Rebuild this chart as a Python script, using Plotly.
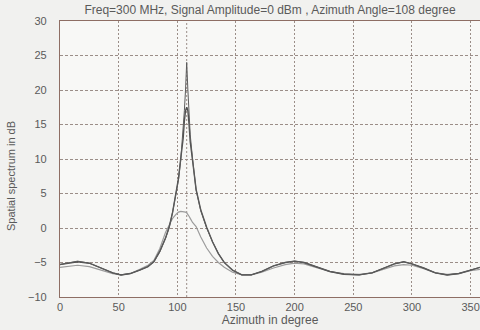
import plotly.graph_objects as go

# ---- data ----
azimuth = [0, 8, 15, 25, 35, 45, 52, 60, 68, 75, 80, 85, 90, 93, 96, 99, 101, 103, 105, 106,
           107, 108, 109, 110, 111, 113, 116, 120, 125, 130, 135, 140, 147, 155, 163, 172,
           182, 192, 200, 208, 218, 230, 242, 255, 266, 276, 285, 293, 300, 310, 320, 330,
           340, 350, 358]

spectrum_a = [-5.3, -5.0, -4.8, -5.1, -5.8, -6.5, -6.8, -6.6, -6.1, -5.6, -4.9, -3.5, -1.5, 0.0,
              2.3, 5.0, 7.0, 10.0, 14.0, 17.0, 20.0, 24.0, 20.0, 16.5, 13.5, 10.0, 5.5, 2.5,
              0.0, -2.0, -3.7, -5.0, -6.1, -6.8, -6.8, -6.3, -5.5, -5.0, -4.8, -5.0, -5.6,
              -6.3, -6.7, -6.8, -6.5, -5.8, -5.2, -4.9, -5.2, -5.8, -6.5, -6.8, -6.6, -6.1, -5.7]

spectrum_b = [-5.3, -5.1, -4.9, -5.1, -5.8, -6.5, -6.8, -6.6, -6.1, -5.6, -4.9, -3.4, -1.4, 0.1,
              2.3, 5.0, 7.2, 10.2, 13.0, 15.5, 17.0, 17.5, 17.0, 15.0, 12.5, 9.8, 5.6, 2.6,
              0.1, -2.0, -3.7, -5.0, -6.1, -6.8, -6.8, -6.3, -5.5, -5.0, -4.8, -5.0, -5.6,
              -6.3, -6.7, -6.8, -6.5, -5.8, -5.2, -4.9, -5.2, -5.8, -6.5, -6.8, -6.6, -6.1, -5.7]

spectrum_c = [-5.7, -5.5, -5.4, -5.6, -6.1, -6.6, -6.8, -6.6, -6.0, -5.4, -4.7, -3.0, -0.6, 0.5,
              1.4, 2.0, 2.3, 2.4, 2.4, 2.4, 2.3, 2.2, 2.0, 1.7, 1.4, 0.8, 0.2, -1.3, -2.9,
              -4.1, -5.0, -5.7, -6.4, -6.8, -6.8, -6.4, -5.8, -5.3, -5.1, -5.2, -5.7, -6.3,
              -6.6, -6.7, -6.5, -6.0, -5.5, -5.3, -5.4, -5.9, -6.5, -6.7, -6.6, -6.2, -6.0]

azimuth_angle = 108
x_ticks = [0, 50, 100, 150, 200, 250, 300, 350]
y_ticks = [-10, -5, 0, 5, 10, 15, 20, 25, 30]

title_text = "Freq=300 MHz, Signal Amplitude=0 dBm , Azimuth Angle=108 degree"
x_title = "Azimuth in degree"
y_title = "Spatial spectrum in dB"

font_family = "Liberation Sans, Arial, sans-serif"
grid_color = "#9b8e88"
axis_color = "#8e6e64"
text_color = "#5a5a5a"

fig = go.Figure()
fig.add_trace(go.Scatter(x=azimuth, y=spectrum_c, mode="lines",
                         line=dict(color="#9c9c9c", width=1.2), showlegend=False))
fig.add_trace(go.Scatter(x=azimuth, y=spectrum_b, mode="lines",
                         line=dict(color="#505050", width=1.4), showlegend=False))
fig.add_trace(go.Scatter(x=azimuth, y=spectrum_a, mode="lines",
                         line=dict(color="#5c5c5c", width=1.0), showlegend=False))

fig.add_vline(x=azimuth_angle, line=dict(color=grid_color, width=1, dash="2px,2px"), layer="below")

fig.add_annotation(text=y_title, textangle=-90, xref="paper", yref="paper",
                   x=-0.118, y=0.44, xanchor="center", yanchor="middle", showarrow=False,
                   font=dict(size=11, color=text_color))

fig.update_layout(
    width=480, height=330,
    margin=dict(l=60, r=0, t=21, b=33, autoexpand=False),
    paper_bgcolor="#f1f1ef",
    plot_bgcolor="#f8f8f6",
    font=dict(family=font_family, size=11, color=text_color),
    title=dict(text=title_text, x=0.5, xref="paper", xanchor="center",
               y=0.97, yref="container", yanchor="middle", automargin=False,
               font=dict(size=12, color=text_color)),
)
fig.update_xaxes(
    range=[0, 358], tickvals=x_ticks, ticks="", automargin=False,
    showgrid=True, gridcolor=grid_color, griddash="2px,2px", gridwidth=1,
    showline=True, linecolor=axis_color, linewidth=1.2, mirror=True,
    zeroline=False,
    title=dict(text=x_title, standoff=0, font=dict(size=12)),
    tickfont=dict(size=11),
)
fig.update_yaxes(
    range=[-10, 30], tickvals=y_ticks, ticks="", automargin=False,
    showgrid=True, gridcolor=grid_color, griddash="3px,2px", gridwidth=1,
    showline=True, linecolor=axis_color, linewidth=1.2, mirror=True,
    zeroline=False, ticklabelstandoff=10,
    tickfont=dict(size=11),
)

fig.write_html("out.html", config={"displayModeBar": False},
               post_script="document.body.style.margin='0';document.body.style.background='#f1f1ef';")
